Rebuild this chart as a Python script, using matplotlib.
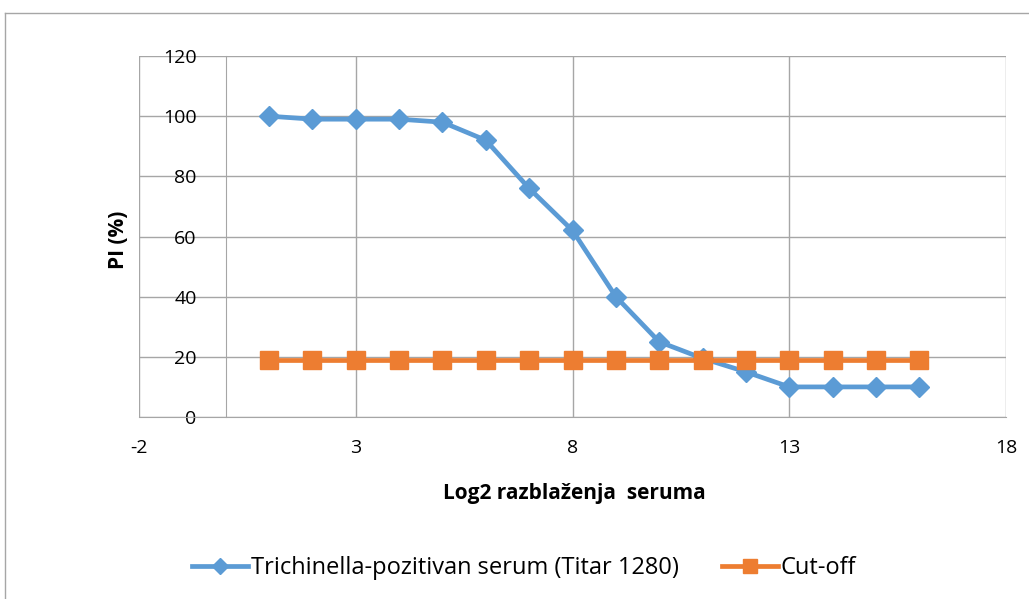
import matplotlib.pyplot as plt
from matplotlib.lines import Line2D

plt.rcParams['font.family'] = ['Open Sans', 'DejaVu Sans']
plt.rcParams['axes.unicode_minus'] = False

# data
dilution = [1, 2, 3, 4, 5, 6, 7, 8, 9, 10, 11, 12, 13, 14, 15, 16]
pi_positive = [100, 99, 99, 99, 98, 92, 76, 62, 40, 25, 19.5, 15, 10, 10, 10, 10]
cutoff = [19, 19, 19, 19, 19, 19, 19, 19, 19, 19, 19, 19, 19, 19, 19, 19]

x_ticks = [-2, 3, 8, 13, 18]
y_ticks = [0, 20, 40, 60, 80, 100, 120]

W, H = 1029, 599
fig = plt.figure(figsize=(W / 100, H / 100), dpi=100)

# outer chart border (Excel style)
fig.add_artist(Line2D([5 / W, 1], [1 - 13 / H, 1 - 13 / H], transform=fig.transFigure, color='#A6A6A6', lw=1))
fig.add_artist(Line2D([5 / W, 5 / W], [0, 1 - 13 / H], transform=fig.transFigure, color='#A6A6A6', lw=1))

ax = fig.add_axes([139 / W, 1 - 417 / H, (1006 - 139) / W, (417 - 56) / H])

blue, = ax.plot(dilution, pi_positive, color='#5B9BD5', lw=3.4, marker='D', markersize=10.5,
                label='Trichinella-pozitivan serum (Titar 1280)', zorder=3)
orange, = ax.plot(dilution, cutoff, color='#ED7D31', lw=3.4, marker='s', markersize=13.5,
                  label='Cut-off', zorder=4)

ax.set_xlim(-2, 18)
ax.set_ylim(0, 120)
ax.set_xticks(x_ticks)
ax.set_yticks(y_ticks)
ax.grid(True, color='#A6A6A6', lw=1)
ax.set_axisbelow(True)

for s in ['top', 'right']:
    ax.spines[s].set_visible(False)
ax.spines['left'].set_position(('data', 0))
ax.spines['left'].set_color('#A6A6A6')
ax.spines['bottom'].set_color('#A6A6A6')
ax.tick_params(axis='both', length=0, labelsize=14, colors='#000000')
ax.tick_params(axis='x', pad=16)
ax.tick_params(axis='y', pad=21)

fig.text(574 / W, 1 - 493 / H, 'Log2 razblaženja  seruma', ha='center', va='center',
         fontsize=15, fontweight='bold')
fig.text(118 / W, 1 - 240 / H, 'PI (%)', ha='center', va='center', rotation=90,
         fontsize=15, fontweight='bold')

fig.legend(handles=[blue, orange], loc='center', bbox_to_anchor=(524 / W, 1 - 568 / H),
           ncol=2, frameon=False, fontsize=17, handlelength=2.4, columnspacing=1.8,
           handletextpad=0.12, markerscale=0.75)

plt.savefig('out.png', dpi=100)
